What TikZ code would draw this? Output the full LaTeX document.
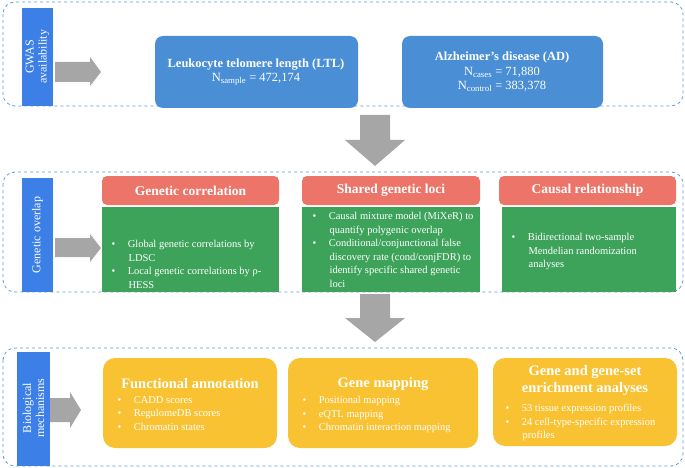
\documentclass[tikz,border=0pt]{standalone}
\usepackage{fontspec}
\setmainfont{Liberation Serif}
\definecolor{pblue}{HTML}{4A8FD6}
\definecolor{lblue}{HTML}{3C7FE6}
\definecolor{dash}{HTML}{5B9BD5}
\definecolor{pred}{HTML}{EC7468}
\definecolor{pgreen}{HTML}{3DA35A}
\definecolor{pyel}{HTML}{F8C232}
\definecolor{agray}{HTML}{A6A6A6}
\tikzset{
 panel/.style={draw=dash,dashed,rounded corners=12pt,line width=0.8pt},
 hdr/.style={text=white,font=\bfseries\fontsize{13.5}{15}\selectfont},
 wt/.style={text=white,align=left,font=\fontsize{10.5}{13.5}\selectfont,anchor=north west},
 ttl/.style={text=white,align=center,font=\bfseries\fontsize{14.5}{17}\selectfont},
 arr/.style={fill=agray}
}
\newcommand{\bl}{\textbullet\hspace{1.2em}}
\newcommand{\ind}{\hspace{1.63em}}
\begin{document}
\begin{tikzpicture}[x=1pt,y=-1pt]
\useasboundingbox (0,0) rectangle (685,468);
% panel 1
\draw[panel] (3,2) rectangle (683,106);
\fill[lblue] (22,8) rectangle (53,106);
\node[text=white,rotate=90,align=center,font=\fontsize{12}{13}\selectfont] (s1) at (37.5,57) {GWAS\\availability};
\fill[arr] (55,62) -- (90,62) -- (90,57) -- (101,72) -- (90,86) -- (90,82) -- (55,82) -- cycle;
\fill[pblue,rounded corners=8pt] (155,36) rectangle (358,108);
\node[text=white,align=center,font=\fontsize{12.5}{14.5}\selectfont] (ltl) at (256,72) {\textbf{Leukocyte telomere length (LTL)}\\N\textsubscript{sample} = 472,174};
\fill[pblue,rounded corners=8pt] (402,36) rectangle (603,108);
\node[text=white,align=center,font=\fontsize{12.5}{14.5}\selectfont] (ad) at (502,72) {\textbf{Alzheimer’s disease (AD)}\\N\textsubscript{cases} = 71,880\\N\textsubscript{control} = 383,378};
\fill[arr] (360,115) -- (390,115) -- (390,140) -- (405,140) -- (375,166) -- (345,140) -- (360,140) -- cycle;
% panel 2
\draw[panel] (3,172) rectangle (683,292);
\fill[lblue] (22,178) rectangle (53,292);
\node[text=white,rotate=90,font=\fontsize{12}{13}\selectfont] (s2) at (37.5,235) {Genetic overlap};
\fill[arr] (55,238) -- (90,238) -- (90,234) -- (101,248) -- (90,262) -- (90,257) -- (55,257) -- cycle;
\fill[pred,rounded corners=5pt] (102,176) rectangle (279,205);
\node[hdr] (h1) at (190.5,190.5) {Genetic correlation};
\fill[pred,rounded corners=5pt] (302,176) rectangle (480,205);
\node[hdr] (h2) at (391,190.5) {Shared genetic loci};
\fill[pred,rounded corners=5pt] (499,176) rectangle (676,205);
\node[hdr] (h3) at (587.5,190.5) {Causal relationship};
\fill[pgreen] (102,207) rectangle (279,292);
\fill[pgreen] (302,207) rectangle (480,292);
\fill[pgreen] (502,207) rectangle (676,292);
\node[wt] (g1) at (108,237) {\bl Global genetic correlations by\\\ind LDSC\\\bl Local genetic correlations by ρ-\\\ind HESS};
\node[wt] (g2) at (309,209) {\bl Causal mixture model (MiXeR) to\\\ind quantify polygenic overlap\\\bl Conditional/conjunctional false\\\ind discovery rate (cond/conjFDR) to\\\ind identify specific shared genetic\\\ind loci};
\node[wt] (g3) at (508,230) {\bl Bidirectional two-sample\\\ind Mendelian randomization\\\ind analyses};
\fill[arr] (360,294) -- (390,294) -- (390,318) -- (405,318) -- (375,342) -- (345,318) -- (360,318) -- cycle;
% panel 3
\draw[panel] (3,348) rectangle (683,466);
\fill[lblue] (17,352) rectangle (50,466);
\node[text=white,rotate=90,align=center,font=\fontsize{12}{13}\selectfont] (s3) at (33.5,408) {Biological\\mechanisms};
\fill[arr] (50,398) -- (70,398) -- (70,392) -- (81,410) -- (70,428) -- (70,422) -- (50,422) -- cycle;
\fill[pyel,rounded corners=12pt] (103,358) rectangle (277,448);
\fill[pyel,rounded corners=12pt] (288,358) rectangle (478,448);
\fill[pyel,rounded corners=12pt] (493,358) rectangle (677,446);
\node[ttl] (f1) at (190,384) {Functional annotation};
\node[wt] (f1t) at (114,393) {\bl CADD scores\\\bl RegulomeDB scores\\\bl Chromatin states};
\node[ttl] (f2) at (383,384) {Gene mapping};
\node[wt] (f2t) at (299,393) {\bl Positional mapping\\\bl eQTL mapping\\\bl Chromatin interaction mapping};
\node[ttl] (f3) at (585,381) {Gene and gene-set\\enrichment analyses};
\node[wt] (f3t) at (502,401) {\bl 53 tissue expression profiles\\\bl 24 cell-type-specific expression\\\ind profiles};
\end{tikzpicture}
\end{document}
